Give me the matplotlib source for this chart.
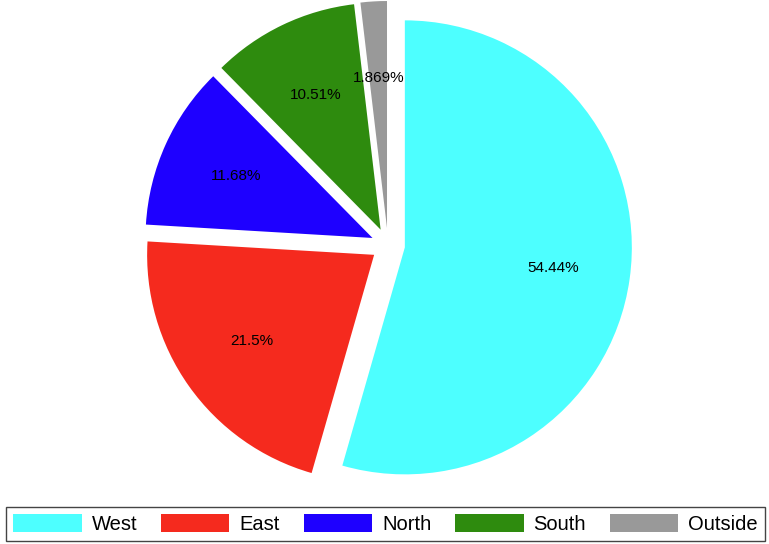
import matplotlib.pyplot as plt

plt.rcParams['font.family'] = ['Liberation Sans', 'DejaVu Sans']

regions = ['West', 'East', 'North', 'South', 'Outside']
shares = [54.44, 21.5, 11.68, 10.51, 1.869]
colors = ['#4dffff', '#f52a1e', '#1e00ff', '#2e8b0e', '#999999']

W, H = 769, 544
fig = plt.figure(figsize=(W / 100, H / 100), dpi=100)
ax = fig.add_axes([0, 0, 1, 1])

# work in pixel units so the pie lands where it sits in the reference
R = 227
cx, cy = 388, H - 245
wedges, texts, autotexts = ax.pie(
    shares,
    colors=colors,
    startangle=90,
    counterclock=False,
    explode=[17] * len(shares),  # explode is in data units, not a fraction of R
    radius=R,
    center=(cx, cy),
    autopct=lambda p: '{:.4g}%'.format(p),
    pctdistance=0.66,
    textprops={'fontsize': 11, 'color': 'black'},
    wedgeprops={'linewidth': 0},
)
ax.set_xlim(0, W)
ax.set_ylim(0, H)
ax.set_aspect('equal')
ax.axis('off')

leg = fig.legend(wedges, regions, loc='lower left', ncol=5, mode='expand',
                 bbox_to_anchor=(6 / W, 3 / H, 759 / W, 36 / H),
                 fontsize=14.5, handlelength=3.4, handleheight=1.0,
                 handletextpad=0.5, borderaxespad=0, borderpad=0.35,
                 fancybox=False, framealpha=1, edgecolor='#444444')
leg.get_frame().set_linewidth(1.0)

fig.savefig('out.png', dpi=100)
